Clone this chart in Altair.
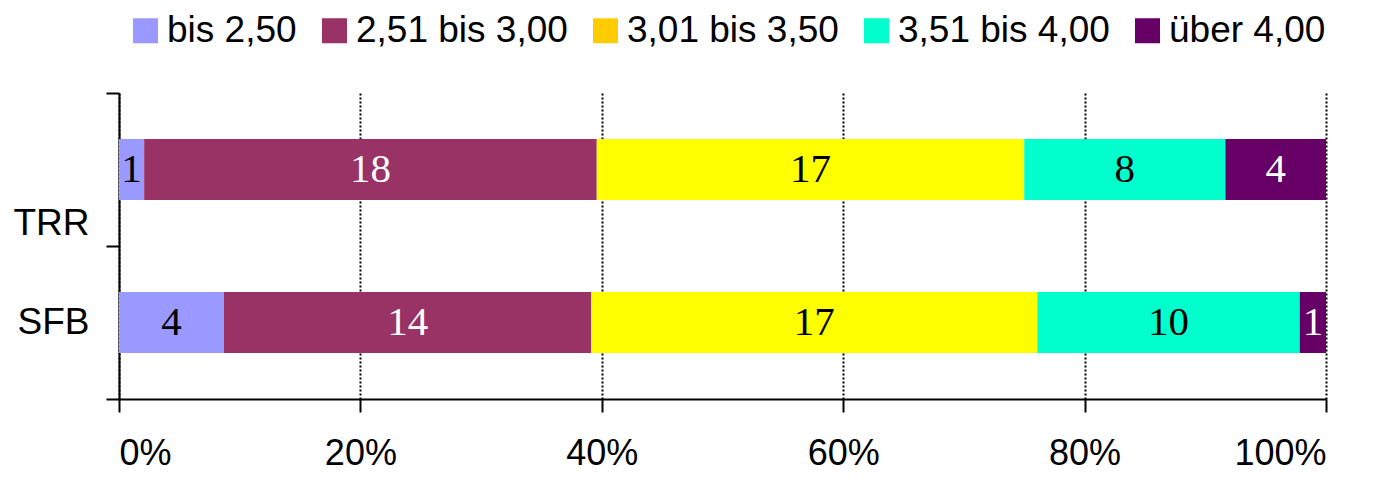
import altair as alt
import pandas as pd

groups = ["TRR", "SFB"]
categories = ["bis 2,50", "2,51 bis 3,00", "3,01 bis 3,50", "3,51 bis 4,00", "über 4,00"]
trr_counts = [1, 18, 17, 8, 4]
sfb_counts = [4, 14, 17, 10, 1]
bar_colors = ["#9999FF", "#993366", "#FFFF00", "#00FFCC", "#660066"]
legend_colors = ["#9999FF", "#993366", "#FFCC00", "#00FFCC", "#660066"]
x_ticks = [0, 0.2, 0.4, 0.6, 0.8, 1.0]

rows = []
for g, counts in zip(groups, [trr_counts, sfb_counts]):
    for i, (c, v) in enumerate(zip(categories, counts)):
        rows.append({"group": g, "cat": c, "order": i, "count": v})
df = pd.DataFrame(rows)

base = alt.Chart(df).transform_stack(
    stack="count", groupby=["group"], as_=["x0", "x1"], offset="normalize",
    sort=[alt.SortField("order", order="ascending")]
).transform_calculate(mid="(datum.x0 + datum.x1) / 2")

y_axis = alt.Axis(
    tickBand="extent", labelFontSize=37, labelFont="Liberation Sans", labelColor="black",
    labelPadding=17, tickSize=13, tickWidth=2, tickColor="black",
    domainColor="black", domainWidth=2, grid=False, title=None,
    labelOffset={"condition": {"test": "datum.value === 'TRR'", "value": 54}, "value": 0},
)
y_scale = alt.Scale(paddingInner=0, paddingOuter=0)
x_axis = alt.Axis(
    values=x_ticks, format="%", labelFontSize=36, labelFont="Liberation Sans", labelColor="black",
    labelPadding=24, tickSize=13, tickWidth=2, tickColor="black",
    domainColor="black", domainWidth=2, grid=True, gridColor="black",
    gridDash=[2, 2], gridWidth=2, title=None,
)
x_scale = alt.Scale(domain=[0, 1], nice=False)

def yenc():
    return alt.Y("group:N", sort=groups, scale=y_scale, axis=y_axis, title=None)

bars = base.mark_bar(size=61).encode(
    x=alt.X("x0:Q", scale=x_scale, axis=x_axis, title=None),
    x2="x1:Q",
    y=yenc(),
    color=alt.Color("cat:N", sort=categories,
                    scale=alt.Scale(range=bar_colors), legend=None),
)

legend_layer = base.mark_bar(size=61, opacity=0).encode(
    x=alt.X("x0:Q", scale=x_scale, axis=x_axis, title=None),
    x2="x1:Q",
    y=yenc(),
    fill=alt.Fill("cat:N",
                  scale=alt.Scale(domain=categories, range=legend_colors),
                  legend=alt.Legend(
                      orient="none", direction="horizontal", legendX=8, legendY=-81,
                      title=None, symbolType="square", symbolSize=625, symbolOpacity=1,
                      symbolStrokeWidth=0, labelFontSize=37, labelFont="Liberation Sans",
                      labelColor="black", labelLimit=500, labelOffset=3, columnPadding=19,
                  )),
)

texts = base.mark_text(font="Liberation Serif", fontSize=41, baseline="middle").encode(
    x=alt.X("mid:Q", scale=x_scale, axis=x_axis, title=None),
    y=yenc(),
    text="count:Q",
    color=alt.condition(
        "datum.cat === '2,51 bis 3,00' || datum.cat === 'über 4,00'",
        alt.value("white"), alt.value("black")),
)

chart = alt.layer(bars, legend_layer, texts).properties(
    width=1207, height=306,
    autosize=alt.AutoSizeParams(type="none"),
    padding={"left": 111, "top": 85, "right": 44, "bottom": 73},
    background="white",
).configure_view(stroke=None)

chart.save("out.html", embed_options={"renderer": "svg", "actions": False})
